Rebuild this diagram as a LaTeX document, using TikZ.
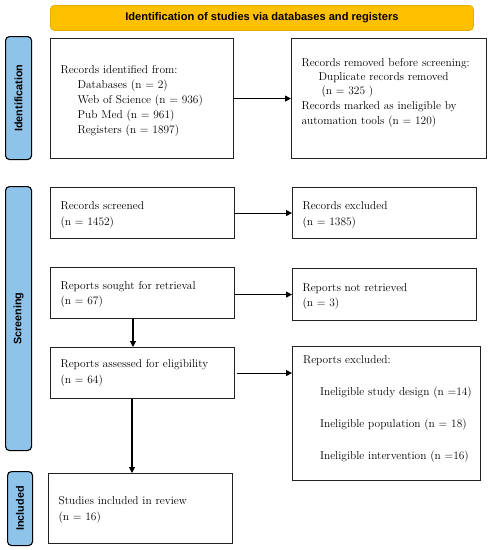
\documentclass[tikz,border=0pt]{standalone}
\usepackage{fontspec}
\newfontfamily\hdfont{Liberation Sans}
\usetikzlibrary{arrows.meta}
\definecolor{barorange}{HTML}{FFC000}
\definecolor{barborder}{HTML}{E6AC00}
\definecolor{sideblue}{HTML}{8EC3EA}
\definecolor{lineg}{HTML}{222222}
\tikzset{
  box/.style={draw=lineg, line width=1.1pt, fill=white, align=left, inner xsep=10pt, inner ysep=0pt, anchor=north west, font=\fontsize{11.4}{15}\selectfont},
  side/.style={draw=black, line width=1.1pt, fill=sideblue, rounded corners=4pt, anchor=north west},
  sidetxt/.style={rotate=90, font=\hdfont\bfseries\fontsize{10.8}{12}\selectfont},
  arr/.style={-{Triangle[length=6pt,width=6pt]}, line width=1.1pt, draw=black},
}
\begin{document}
\begin{tikzpicture}[x=1pt,y=-1pt]
\useasboundingbox (0,0) rectangle (491,550);
% title
\node[draw=barborder, line width=0.8pt, fill=barorange, rounded corners=4pt, minimum width=423pt, minimum height=25pt, anchor=north west, font=\hdfont\bfseries\fontsize{11.1}{12}\selectfont] (title) at (50,5) {Identification of studies via databases and registers};
% side labels
\node[side, minimum width=26pt, minimum height=123pt] (sid) at (5,36) {};
\node[sidetxt] at (sid.center) {Identification};
\node[side, minimum width=26pt, minimum height=264pt] (sscr) at (5,186) {};
\node[sidetxt] at (sscr.center) {Screening};
\node[side, minimum width=25pt, minimum height=74pt] (sinc) at (7,471) {};
\node[sidetxt] at (sinc.center) {Included};
% boxes
\node[box, text width=163pt, minimum height=120pt] (rid) at (50,38) {\rule{0pt}{12.5pt}Records identified from:\\
\hspace*{17pt}Databases (n = 2)\\
\hspace*{17pt}Web of Science (n = 936)\\
\hspace*{17pt}Pub Med (n = 961)\\
\hspace*{17pt}Registers (n = 1897)};
\node[box, text width=175pt, minimum height=120pt] (rrm) at (291,38) {Records removed before screening:\\[-1pt]
\hspace*{17pt}Duplicate records removed\\[-1pt]
\hspace*{20pt}(n = 325 )\\
Records marked as ineligible by\\
automation tools (n = 120)\rule[-14pt]{0pt}{1pt}};
\node[box, text width=164pt, minimum height=51pt, font=\fontsize{11.4}{16}\selectfont] (rsc) at (50,187) {\rule{0pt}{11pt}Records screened\\(n = 1452)};
\node[box, text width=164pt, minimum height=51pt, font=\fontsize{11.4}{16}\selectfont] (rex) at (292,187) {\rule{0pt}{11pt}Records excluded\\(n = 1385)};
\node[box, text width=164pt, minimum height=51pt] (rso) at (50,267) {\rule{0pt}{11pt}Reports sought for retrieval\\(n = 67)};
\node[box, text width=164pt, minimum height=52pt] (rnr) at (292,268) {\rule{0pt}{11pt}Reports not retrieved\\(n = 3)};
\node[box, text width=164pt, minimum height=51pt, font=\fontsize{11.4}{16}\selectfont] (ras) at (50,347) {Reports assessed for eligibility\\(n = 64)};
\node[box, text width=167pt, inner xsep=10.5pt, minimum height=134pt] (rexc) at (292,346) {Reports excluded:\\[17pt]
\hspace*{17pt}\mbox{Ineligible study design (n =14)}\\[17pt]
\hspace*{17pt}\mbox{Ineligible population (n = 18)}\\[17pt]
\hspace*{17pt}\mbox{Ineligible intervention (n =16)}\rule[-13pt]{0pt}{1pt}};
\node[box, text width=164pt, minimum height=70pt, font=\fontsize{11.4}{16}\selectfont] (sinr) at (48,473) {\rule{0pt}{11pt}Studies included in review\\(n = 16)};
% arrows
\draw[arr] (rid.east) -- (rrm.west);
\draw[arr] (rsc.east) -- (rex.west);
\draw[arr] (rso.east |- rnr.west) -- (rnr.west);
\draw[arr] (ras.east) ++(2,0) -- (ras.east -| rexc.west);
\draw[arr] (rso.south -| 133,0) -- (ras.north -| 133,0);
\draw[arr] (ras.south -| 132,0) -- (sinr.north -| 132,0);
\end{tikzpicture}
\end{document}
